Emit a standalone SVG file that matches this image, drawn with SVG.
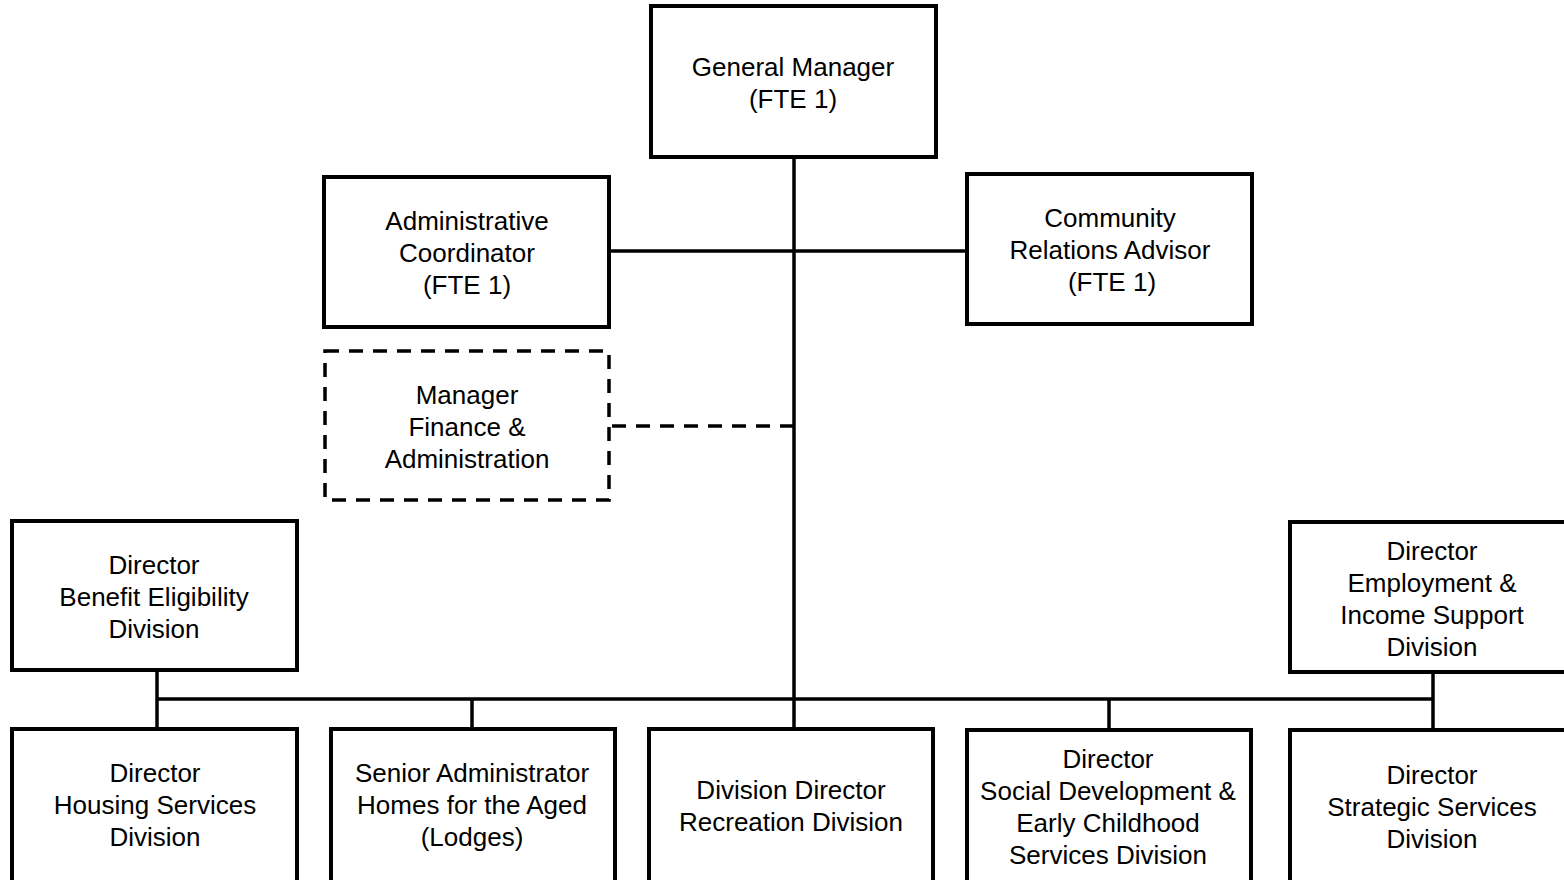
<svg xmlns="http://www.w3.org/2000/svg" width="1564" height="880" viewBox="0 0 1564 880">
<style>
.box{fill:#fff;stroke:#000;stroke-width:4}
.dbox{fill:#fff;stroke:#000;stroke-width:3.5;stroke-dasharray:14 10}
.ln{fill:none;stroke:#000;stroke-width:3.5}
.dln{fill:none;stroke:#000;stroke-width:3.5;stroke-dasharray:14 10}
text{font-family:"Liberation Sans",Arial,sans-serif;font-size:26px;fill:#000;text-anchor:middle}
</style>
<rect width="1564" height="880" fill="#fff"/>
<g id="connectors">
<line class="ln" x1="794" y1="157" x2="794" y2="728"/>
<line class="ln" x1="609" y1="251" x2="967" y2="251"/>
<line class="dln" x1="794" y1="426" x2="609" y2="426"/>
<line class="ln" x1="157" y1="699" x2="1433" y2="699"/>
<line class="ln" x1="157" y1="670" x2="157" y2="728"/>
<line class="ln" x1="1433" y1="672" x2="1433" y2="730"/>
<line class="ln" x1="472" y1="699" x2="472" y2="728"/>
<line class="ln" x1="1109" y1="699" x2="1109" y2="730"/>
</g>
<g id="gm"><rect class="box" x="651" y="6" width="285" height="151"/>
<text x="793" y="76">General Manager</text><text x="793" y="108">(FTE 1)</text></g>
<g id="admin"><rect class="box" x="324" y="177" width="285" height="150"/>
<text x="467" y="230">Administrative</text><text x="467" y="262">Coordinator</text><text x="467" y="294">(FTE 1)</text></g>
<g id="community"><rect class="box" x="967" y="174" width="285" height="150"/>
<text x="1110" y="227">Community</text><text x="1110" y="259">Relations Advisor</text><text x="1112" y="291">(FTE 1)</text></g>
<g id="finance"><rect class="dbox" x="325" y="351" width="284" height="149"/>
<text x="467" y="404">Manager</text><text x="467" y="436">Finance &amp;</text><text x="467" y="468">Administration</text></g>
<g id="benefit"><rect class="box" x="12" y="521" width="285" height="149"/>
<text x="154" y="574">Director</text><text x="154" y="606">Benefit Eligibility</text><text x="154" y="638">Division</text></g>
<g id="employment"><rect class="box" x="1290" y="522" width="290" height="150"/>
<text x="1432" y="560">Director</text><text x="1432" y="592">Employment &amp;</text><text x="1432" y="624">Income Support</text><text x="1432" y="656">Division</text></g>
<g id="housing"><rect class="box" x="12" y="729" width="285" height="160"/>
<text x="155" y="782">Director</text><text x="155" y="814">Housing Services</text><text x="155" y="846">Division</text></g>
<g id="lodges"><rect class="box" x="331" y="729" width="284" height="160"/>
<text x="472" y="782">Senior Administrator</text><text x="472" y="814">Homes for the Aged</text><text x="472" y="846">(Lodges)</text></g>
<g id="recreation"><rect class="box" x="649" y="729" width="284" height="160"/>
<text x="791" y="799">Division Director</text><text x="791" y="831">Recreation Division</text></g>
<g id="social"><rect class="box" x="967" y="730" width="284" height="160"/>
<text x="1108" y="768">Director</text><text x="1108" y="800">Social Development &amp;</text><text x="1108" y="832">Early Childhood</text><text x="1108" y="864">Services Division</text></g>
<g id="strategic"><rect class="box" x="1290" y="730" width="290" height="160"/>
<text x="1432" y="784">Director</text><text x="1432" y="816">Strategic Services</text><text x="1432" y="848">Division</text></g>
</svg>
